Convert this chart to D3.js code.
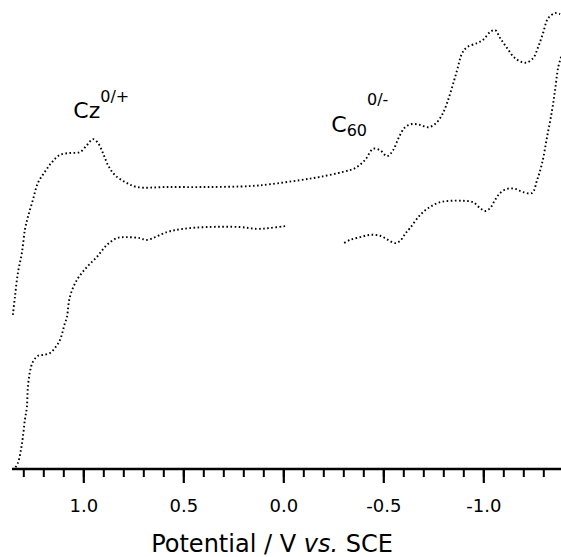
<!DOCTYPE html>
<html lang="en">
<head>
  <meta charset="UTF-8">
  <title>CV</title>
  <script src="https://d3js.org/d3.v7.min.js"></script>
  <style>
    html, body {
      margin: 0;
      background-color: #fff;
      font-family: "DejaVu Sans", sans-serif;
    }
  </style>
</head>
<body>
  <div id="chart"></div>
  <script>
    // potential (V vs. SCE) and current (arbitrary units)
    const forwardV = [1.352, 1.342, 1.327, 1.307, 1.292, 1.277, 1.252, 1.227, 1.192, 1.157, 1.117, 1.067, 1.017, 0.982, 0.952, 0.927, 0.902, 0.877, 0.842, 0.792, 0.732, 0.582, 0.382, 0.167, 0.067, -0.084, -0.184, -0.299, -0.359, -0.409, -0.449, -0.484, -0.519, -0.549, -0.579, -0.609, -0.644, -0.684, -0.724, -0.759, -0.794, -0.819, -0.844, -0.869, -0.894, -0.919, -0.969, -0.999, -1.034, -1.059, -1.084, -1.119, -1.159, -1.209, -1.249, -1.274, -1.299, -1.324, -1.359, -1.384]
    const forwardI = [33.5, 37.4, 42.6, 47.0, 52.0, 54.8, 58.5, 62.2, 64.6, 66.7, 68.3, 68.7, 68.9, 70.4, 71.7, 70.9, 68.7, 66.1, 63.9, 62.4, 61.3, 61.3, 61.3, 61.5, 61.9, 62.8, 63.5, 64.6, 65.4, 67.2, 69.6, 69.3, 68.0, 69.3, 72.2, 74.3, 75.0, 74.8, 74.3, 75.0, 77.0, 79.6, 83.0, 86.7, 90.4, 91.7, 92.6, 93.3, 95.0, 95.4, 93.7, 91.5, 89.3, 88.3, 89.3, 91.7, 94.8, 98.0, 99.1, 98.9]

    const returnRightV = [-1.389, -1.374, -1.359, -1.344, -1.319, -1.294, -1.269, -1.244, -1.199, -1.159, -1.119, -1.084, -1.059, -1.034, -1.009, -0.984, -0.949, -0.899, -0.834, -0.784, -0.734, -0.684, -0.634, -0.609, -0.584, -0.559, -0.524, -0.484, -0.434, -0.384, -0.334, -0.294]
    const returnRightI = [89.6, 87.2, 82.4, 78.0, 72.2, 66.5, 62.8, 60.0, 60.2, 60.9, 60.9, 60.0, 58.5, 56.7, 56.1, 56.7, 58.0, 58.3, 58.3, 58.0, 57.0, 55.2, 52.4, 51.1, 49.6, 49.1, 49.8, 50.7, 50.9, 50.4, 49.8, 48.9]

    const returnLeftV = [-0.009, 0.067, 0.132, 0.217, 0.382, 0.502, 0.582, 0.682, 0.717, 0.782, 0.832, 0.882, 0.932, 0.982, 1.032, 1.067, 1.082, 1.092, 1.117, 1.142, 1.167, 1.202, 1.227, 1.252, 1.267, 1.277, 1.282, 1.292, 1.302, 1.312, 1.327, 1.342]
    const returnLeftI = [52.8, 52.4, 52.2, 52.6, 52.6, 52.2, 51.5, 49.8, 50.2, 50.4, 50.2, 48.7, 46.1, 43.9, 41.1, 37.4, 33.0, 31.7, 28.0, 26.3, 25.2, 24.8, 24.6, 23.3, 21.1, 17.8, 13.5, 10.7, 7.0, 4.1, 1.3, 0.2]

    const minorTicks = d3.range(13, -14, -1).map(d => d / 10)
    const majorTicks = [1.0, 0.5, 0.0, -0.5, -1.0]

    const width = 561
    const height = 557
    const axisY = 469

    const x = d3.scaleLinear().domain([1.3565, -1.3885]).range([12, 561])
    const y = d3.scaleLinear().domain([0, 100]).range([axisY, 9])

    const svg = d3.select('#chart').append('svg')
      .attr('width', width)
      .attr('height', height)

    const line = d3.line()
      .x(d => x(d[0]))
      .y(d => y(d[1]))
      .curve(d3.curveCatmullRom)

    const traces = [
      d3.zip(forwardV, forwardI),
      d3.zip(returnRightV, returnRightI),
      d3.zip(returnLeftV, returnLeftI),
    ]

    svg.append('clipPath').attr('id', 'plot')
      .append('rect').attr('x', 0).attr('y', 0).attr('width', width).attr('height', axisY)

    svg.append('g')
      .attr('clip-path', 'url(#plot)')
      .selectAll('path')
      .data(traces)
      .join('path')
      .attr('d', line)
      .attr('fill', 'none')
      .attr('stroke', '#000')
      .attr('stroke-width', 1.9)
      .attr('stroke-dasharray', '1.6 2.5')

    // minor ticks
    svg.append('g')
      .attr('transform', `translate(0,${axisY})`)
      .call(d3.axisBottom(x).tickValues(minorTicks).tickSize(8).tickFormat(''))
      .call(g => g.select('.domain').remove())
      .call(g => g.selectAll('line').attr('stroke', '#000').attr('stroke-width', 2))

    // major ticks and labels
    const fmt = v => (Math.abs(v) < 1e-9 ? 0 : v).toFixed(1)
    svg.append('g')
      .attr('transform', `translate(0,${axisY})`)
      .call(d3.axisBottom(x).tickValues(majorTicks).tickSize(14).tickPadding(16).tickFormat(fmt))
      .call(g => g.select('.domain').remove())
      .call(g => g.selectAll('line').attr('stroke', '#000').attr('stroke-width', 2.2))
      .call(g => g.selectAll('text')
        .attr('fill', '#000')
        .style('font-family', '"DejaVu Sans", sans-serif')
        .style('font-size', '18px'))

    svg.append('line')
      .attr('x1', 12).attr('x2', 561)
      .attr('y1', axisY).attr('y2', axisY)
      .attr('stroke', '#000')
      .attr('stroke-width', 2.4)

    const title = svg.append('text')
      .attr('x', 272)
      .attr('y', 552)
      .attr('text-anchor', 'middle')
      .style('font-size', '24px')
    title.append('tspan').text('Potential / V ')
    title.append('tspan').style('font-style', 'italic').text('vs.')
    title.append('tspan').text(' SCE')

    // peak labels
    const cz = svg.append('text')
      .attr('x', x(1.05))
      .attr('y', 118)
      .style('font-size', '22px')
    cz.append('tspan').text('Cz')
    cz.append('tspan').attr('dy', -16).style('font-size', '16px').text('0/+')

    const c60 = svg.append('text')
      .attr('x', x(-0.24))
      .attr('y', 132)
      .style('font-size', '22px')
    c60.append('tspan').text('C')
    c60.append('tspan').attr('dy', 4).style('font-size', '16px').text('60')
    c60.append('tspan').attr('dy', -31).style('font-size', '16px').text('0/-')
  </script>
</body>
</html>
